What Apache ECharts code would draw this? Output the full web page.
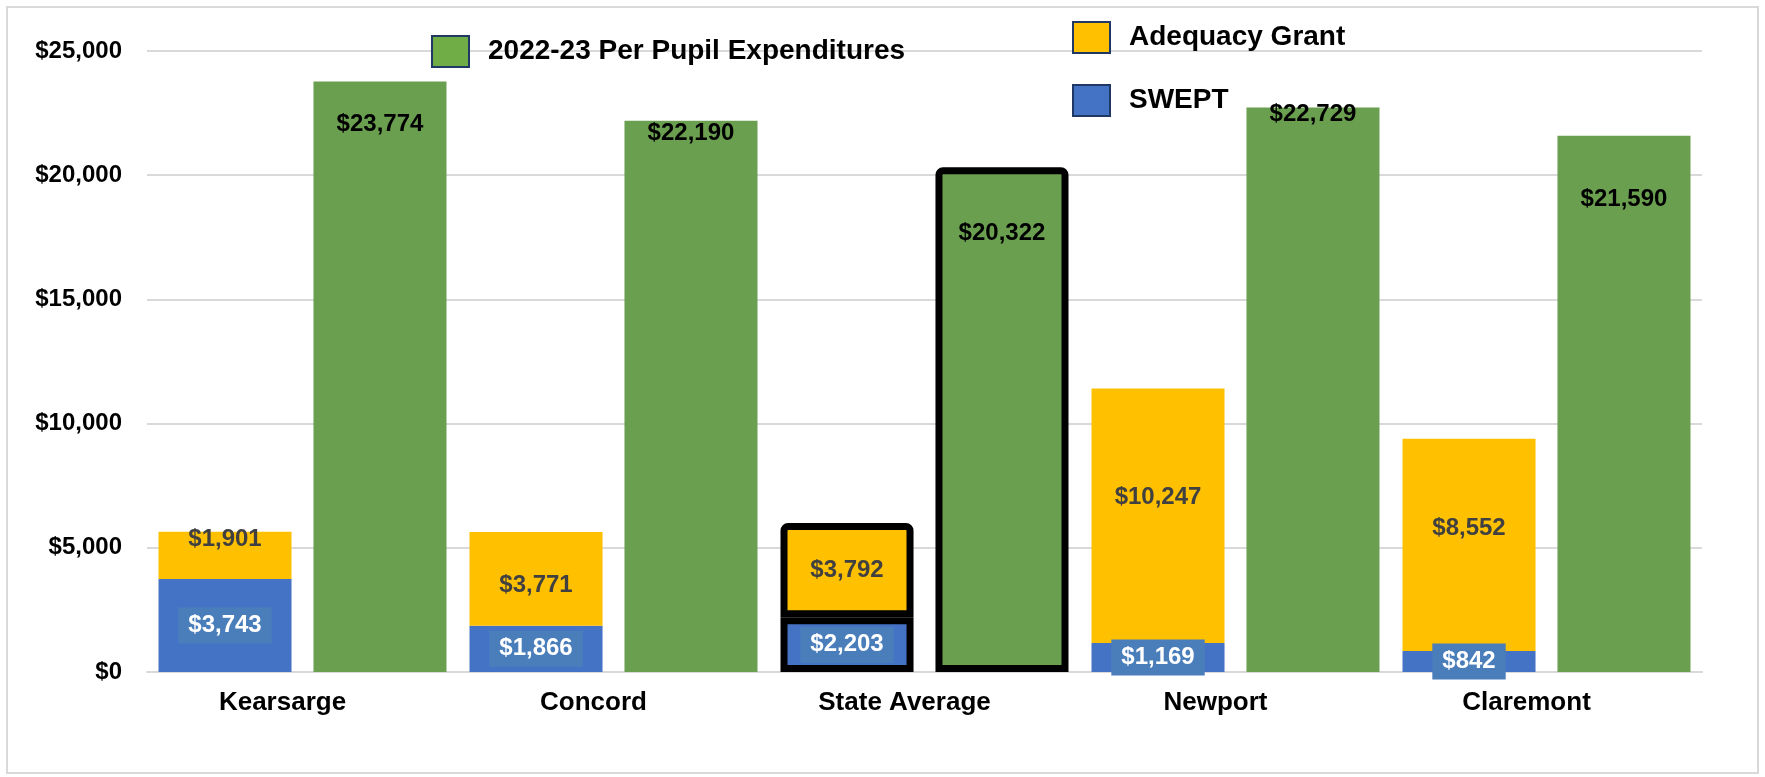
<!DOCTYPE html>
<html>
<head>
<meta charset="utf-8">
<script src="https://cdn.jsdelivr.net/npm/echarts@6/dist/echarts.min.js"></script>
<style>
  html, body { margin: 0; padding: 0; background: #fff; }
  #chart { width: 1765px; height: 777px; }
</style>
</head>
<body>
<div id="chart"></div>
<script>
// data
const categories = ['Kearsarge', 'Concord', 'State Average', 'Newport', 'Claremont'];
const swept = [3743, 1866, 2203, 1169, 842];
const adequacy = [1901, 3771, 3792, 10247, 8552];
const expenditures = [23774, 22190, 20322, 22729, 21590];
const yTicks = [0, 5000, 10000, 15000, 20000, 25000];

const FONT = '"Liberation Sans", Arial, sans-serif';
const money = v => '$' + Number(v).toLocaleString('en-US');

// State Average gets the heavy black outline
const outlined = 'State Average';

// manual label nudges (label positions were hand placed in the original)
const greenLabelDy = [31, 1, 54, -5, 52];
const yellowLabelDy = [0, 7, 0, -18, -16];

function withStyle(values, radius, extra) {
  return values.map((v, i) => {
    const item = { value: v };
    if (categories[i] === outlined) {
      item.itemStyle = { borderColor: '#000', borderWidth: 7, borderRadius: radius };
    }
    if (extra) Object.assign(item, extra(i));
    return item;
  });
}

const chart = echarts.init(document.getElementById('chart'));

const legendText = {
  fontSize: 28, fontWeight: 'bold', color: '#000', fontFamily: FONT,
  padding: [0, 0, 0, 14]
};
const legendBase = {
  orient: 'vertical', padding: 0, itemWidth: 37, itemHeight: 31,
  icon: 'rect', selectedMode: false, textStyle: legendText
};

chart.setOption({
  animation: false,
  textStyle: { fontFamily: FONT },
  graphic: [{
    type: 'rect', shape: { x: 7, y: 7, width: 1751, height: 766 },
    style: { fill: 'none', stroke: '#d9d9d9', lineWidth: 2 }, silent: true
  }],
  legend: [
    Object.assign({}, legendBase, {
      left: 431, top: 35,
      data: [{ name: '2022-23 Per Pupil Expenditures',
        itemStyle: { color: '#70ad47', borderColor: '#1f3864', borderWidth: 2 } }]
    }),
    Object.assign({}, legendBase, {
      left: 1072, top: 21,
      data: [{ name: 'Adequacy Grant',
        itemStyle: { color: '#ffc000', borderColor: '#1f3864', borderWidth: 2 } }]
    }),
    Object.assign({}, legendBase, {
      left: 1072, top: 84,
      data: [{ name: 'SWEPT',
        itemStyle: { color: '#4472c4', borderColor: '#1f3864', borderWidth: 2 } }]
    })
  ],
  grid: { left: 147, right: 63, top: 51, bottom: 105 },
  xAxis: {
    type: 'category',
    data: categories,
    axisLine: { lineStyle: { color: '#d9d9d9', width: 2 } },
    axisTick: { show: false },
    axisLabel: {
      fontSize: 26, fontWeight: 'bold', color: '#000', margin: 18,
      padding: [0, 40, 0, 0]
    }
  },
  yAxis: {
    type: 'value',
    min: yTicks[0], max: yTicks[yTicks.length - 1], interval: yTicks[1] - yTicks[0],
    axisLine: { show: false },
    axisTick: { show: false },
    splitLine: { lineStyle: { color: '#d9d9d9', width: 2 } },
    axisLabel: {
      fontSize: 24, fontWeight: 'bold', color: '#000', margin: 25,
      formatter: money
    }
  },
  series: [
    {
      name: 'SWEPT',
      type: 'bar',
      stack: 'funding',
      barCategoryGap: '7.4%',
      barGap: '16.5%',
      itemStyle: { color: '#4472c4' },
      label: {
        show: true, position: 'inside', formatter: p => money(p.value),
        fontSize: 24, fontWeight: 'bold', color: '#fff',
        backgroundColor: '#4a7ebb', padding: [6, 10]
      },
      data: withStyle(swept, 0)
    },
    {
      name: 'Adequacy Grant',
      type: 'bar',
      stack: 'funding',
      itemStyle: { color: '#ffc000' },
      label: {
        show: true, position: 'inside', formatter: p => money(p.value),
        fontSize: 24, fontWeight: 'bold', color: '#404040'
      },
      data: withStyle(adequacy, [4, 4, 0, 0], i => i === 0
        ? { label: { position: 'insideTop', distance: 0, offset: [0, -4] } }
        : { label: { offset: [0, yellowLabelDy[i]] } })
    },
    {
      name: '2022-23 Per Pupil Expenditures',
      type: 'bar',
      barCategoryGap: '7.4%',
      barGap: '16.5%',
      itemStyle: { color: '#6a9f4f' },
      label: {
        show: true, position: 'insideTop', distance: 0,
        formatter: p => money(p.value),
        fontSize: 24, fontWeight: 'bold', color: '#000'
      },
      data: withStyle(expenditures, [4, 4, 0, 0], i => ({ label: { offset: [0, greenLabelDy[i]] } }))
    }
  ]
});
</script>
</body>
</html>
